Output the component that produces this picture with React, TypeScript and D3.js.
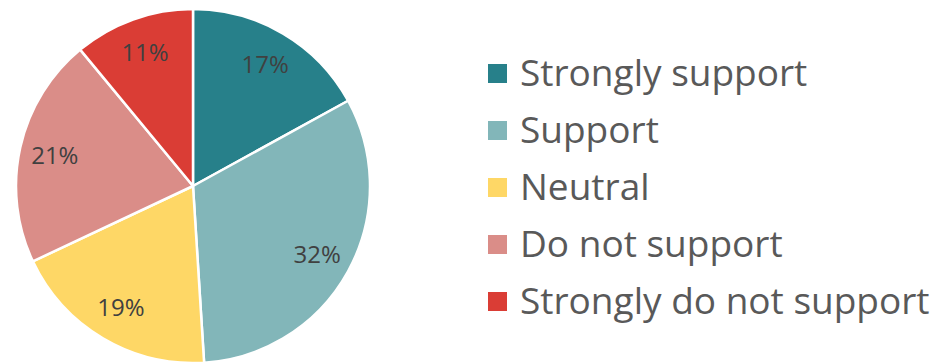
import React, { useEffect, useRef } from "react";
import * as d3 from "d3";

const categories = ["Strongly support", "Support", "Neutral", "Do not support", "Strongly do not support"];
const values = [17, 32, 19, 21, 11];
const colors = ["#27808A", "#82B6B9", "#FED766", "#DA8D88", "#DA3D35"];

const W = 939;
const H = 364;

export default function App() {
  const ref = useRef<SVGSVGElement | null>(null);
  useEffect(() => {
    document.body.style.margin = "0";
    const svg = d3.select(ref.current);
    svg.selectAll("*").remove();
    const cx = 193, cy = 186, r = 177;
    const pie = d3.pie<number>().sort(null).value((d) => d);
    const arcs = pie(values);
    const arc = d3.arc<d3.PieArcDatum<number>>().innerRadius(0).outerRadius(r);
    const labelArc = d3.arc<d3.PieArcDatum<number>>().innerRadius(r * 0.8).outerRadius(r * 0.8);
    const g = svg.append("g").attr("transform", `translate(${cx},${cy})`);
    g.selectAll("path.slice")
      .data(arcs)
      .join("path")
      .attr("class", "slice")
      .attr("d", arc as any)
      .attr("fill", (_d, i) => colors[i])
      .attr("stroke", "#fff")
      .attr("stroke-width", 2.5)
      .attr("stroke-linejoin", "round");
    g.selectAll("text.lbl")
      .data(arcs)
      .join("text")
      .attr("class", "lbl")
      .attr("transform", (d) => `translate(${labelArc.centroid(d)})`)
      .attr("text-anchor", "middle")
      .attr("dy", "0.35em")
      .attr("font-family", "'Open Sans', sans-serif")
      .attr("font-size", 24)
      .attr("fill", "#404040")
      .text((d) => `${d.data}%`);

    const ly = d3.scaleBand<string>().domain(categories).range([45, 330]).paddingInner(0);
    const lg = svg.append("g");
    const rows = lg.selectAll("g.row").data(categories).join("g").attr("class", "row")
      .attr("transform", (d) => `translate(488,${(ly(d) as number) + ly.bandwidth() / 2})`);
    rows.append("rect")
      .attr("x", 0).attr("y", -9.5).attr("width", 19).attr("height", 19)
      .attr("fill", (_d, i) => colors[i]);
    rows.append("text")
      .attr("x", 32).attr("y", 12)
      .attr("font-family", "'Open Sans', sans-serif")
      .attr("font-size", 37)
      .attr("fill", "#595959")
      .text((d) => d);
  }, []);
  return <svg ref={ref} width={W} height={H} style={{ display: "block" }} />;
}
